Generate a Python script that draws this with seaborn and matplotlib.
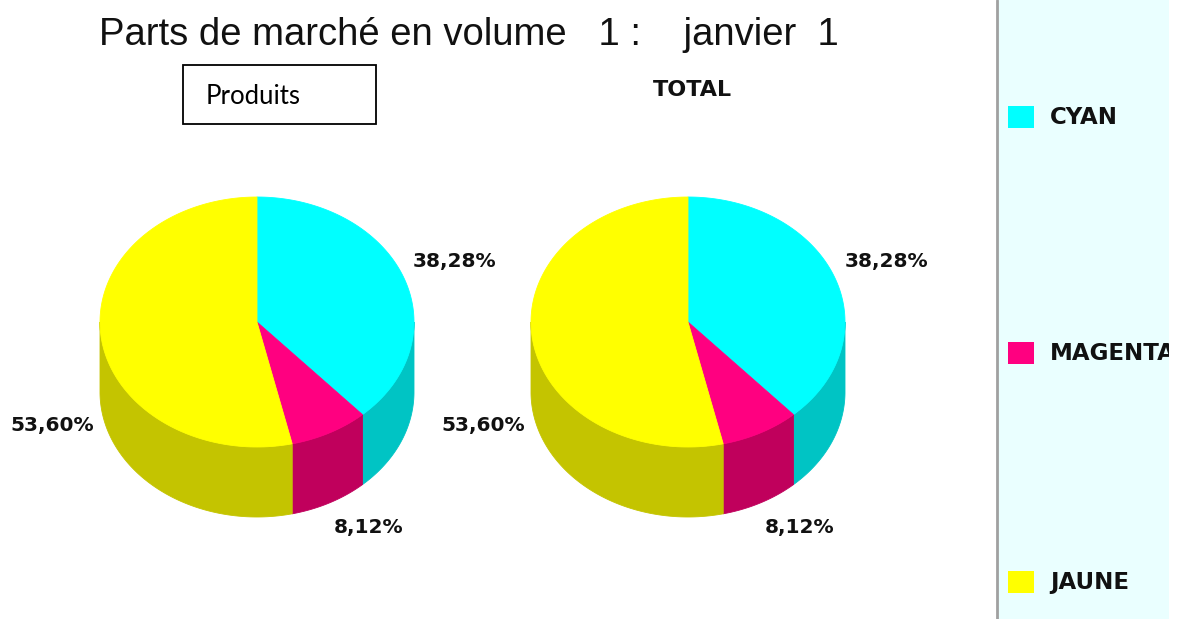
import numpy as np
import matplotlib
matplotlib.use("Agg")
import matplotlib.pyplot as plt
import seaborn as sns
from matplotlib.patches import Rectangle

# data
categories = ["CYAN", "MAGENTA", "JAUNE"]
shares_produits = [38.28, 8.12, 53.60]
shares_total = [38.28, 8.12, 53.60]
top_colors = ["#00FFFF", "#FF0080", "#FFFF00"]
side_colors = ["#00C4C4", "#C0005C", "#C4C400"]

sns.set_theme(style="white")
plt.rcParams["font.family"] = ["DejaVu Sans"]

# where each percentage label sits, relative to the pie centre
label_offsets = [(198, -60), (112, 205), (-205, 103)]


def arc(cx, cy, rx, ry, a0, a1, n=150):
    t = np.radians(np.linspace(a0, a1, n))
    return cx + rx * np.cos(t), cy - ry * np.sin(t)


def draw_pie(ax, cx, cy, values, rx=157, ry=125, depth=70):
    total = sum(values)
    start = 90.0
    bounds = []
    for v in values:
        end = start - 360.0 * v / total
        bounds.append((start, end))
        start = end

    # front side of the cylinder (angles between -180 and 0)
    for (a0, a1), col in zip(bounds, side_colors):
        hi, lo = min(a0, 0), max(a1, -180)
        if hi <= lo:
            continue
        xt, yt = arc(cx, cy, rx, ry, hi, lo)
        xb, yb = arc(cx, cy, rx, ry, lo, hi)
        ax.fill(np.r_[xt, xb], np.r_[yt, yb + depth], color=col, lw=0.6)

    # top face
    for (a0, a1), col in zip(bounds, top_colors):
        xs, ys = arc(cx, cy, rx, ry, a0, a1)
        ax.fill(np.r_[cx, xs], np.r_[cy, ys], color=col, lw=0.6)

    # percentage labels
    for (dx, dy), v in zip(label_offsets, values):
        txt = f"{v:.2f}".replace(".", ",") + "%"
        ax.text(cx + dx, cy + dy, txt, ha="center", va="center",
                fontsize=14.5, fontweight="bold", color="#111111")


fig = plt.figure(figsize=(11.81, 6.19), dpi=100)
ax = fig.add_axes([0, 0, 1, 1])
ax.set_xlim(0, 1181)
ax.set_ylim(619, 0)
ax.axis("off")

ax.text(469, 35, "Parts de marché en volume   1 :    janvier  1",
        ha="center", va="center", fontsize=27.5, family="Liberation Sans",
        color="#111111")

ax.add_patch(Rectangle((183, 65), 193, 59, fc="white", ec="black", lw=1.3))
ax.text(206, 97, "Produits", ha="left", va="center", fontsize=18.5,
        family="Lato", color="black")
ax.text(692, 90, "TOTAL", ha="center", va="center", fontsize=16,
        fontweight="bold", color="#111111")

draw_pie(ax, 257, 322, shares_produits)
draw_pie(ax, 688, 322, shares_total)

# legend panel
panel = Rectangle((997, 0), 172, 619, fc="#EAFFFF", ec="none")
ax.add_patch(panel)
ax.plot([997, 997], [0, 619], color="#A0A0A0", lw=2)
legend_y = [117, 353, 582]
for name, col, y in zip(categories, top_colors, legend_y):
    ax.add_patch(Rectangle((1008, y - 11), 26, 22, fc=col, ec="none"))
    t = ax.text(1050, y, name, ha="left", va="center", fontsize=16.5,
                fontweight="bold", color="#111111", clip_on=True)
    t.set_clip_path(panel)

fig.savefig("out.png", dpi=100)
